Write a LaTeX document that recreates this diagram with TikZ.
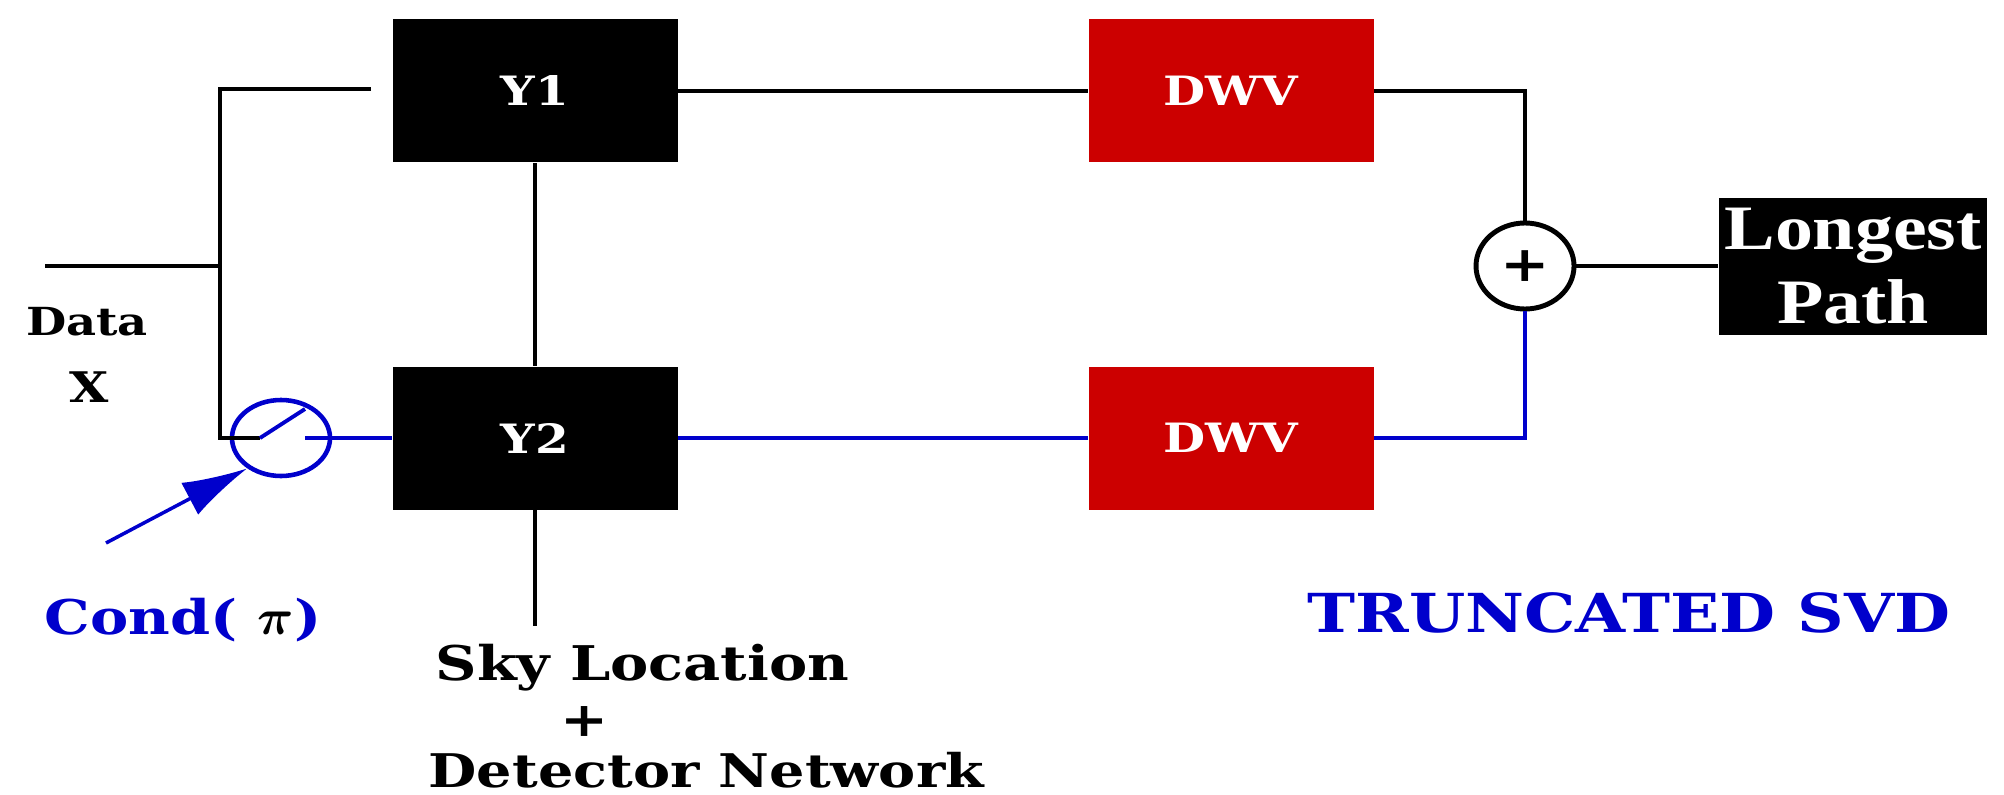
\documentclass[tikz,border=0pt]{standalone}
\usepackage{fontspec}
\usetikzlibrary{arrows.meta,shapes.geometric,positioning}
\setmainfont{DejaVu Serif}
\newfontfamily\wideserif[FakeStretch=1.2]{DejaVu Serif}
\newfontfamily\boxserif[FakeStretch=1.2]{Liberation Serif}
\definecolor{dwvred}{HTML}{CC0000}
\definecolor{condblue}{HTML}{0000CC}
\newcommand{\tx}{\wideserif\bfseries}

\begin{document}
\begin{tikzpicture}[
  blk/.style={fill=black, text=white, minimum width=2.85cm, minimum height=1.43cm, inner sep=0pt,
              font=\tx\fontsize{11.5}{12}\selectfont},
  dwv/.style={blk, fill=dwvred},
  wire/.style={line width=0.9pt},
  bwire/.style={condblue, line width=1.1pt},
  lbl/.style={font=\tx\fontsize{13.6}{16}\selectfont, inner sep=0pt},
  >={Latex[length=6.5mm,width=3.6mm]}]

\useasboundingbox (0,0) rectangle (20.04,-7.94);

% ================================================================== the two branches
\node[blk] (y1) at (5.35,-0.91) {Y1};
\node[blk] (y2) at (5.35,-4.38) {Y2};
\node[dwv] (d1) at (12.31,-0.91) {DWV};
\node[dwv] (d2) at (12.31,-4.38) {DWV};
\node[ellipse, draw, line width=1.4pt, minimum width=0.98cm, minimum height=0.86cm, inner sep=0pt,
      font=\tx\fontsize{14}{14}\selectfont] (sum) at (15.25,-2.66) {+};
\node[blk, minimum width=2.68cm, minimum height=1.37cm, align=center,
      font=\boxserif\bfseries\fontsize{18}{21}\selectfont] (lp) at (18.53,-2.66) {Longest\\Path};

% ================================================================== input, split and switch
\coordinate (in) at (0.45,-2.66);
\coordinate (split) at (2.20,-2.66);
\coordinate (top) at (2.20,-0.89);
\coordinate (topend) at (3.71,-0.89);
\coordinate (low) at (2.20,-4.38);
\node[ellipse, draw=condblue, line width=1.3pt, minimum width=0.98cm, minimum height=0.76cm] (sw) at (2.81,-4.38) {};
\coordinate (pivot) at (2.60,-4.38);
\coordinate (blade) at (3.05,-4.09);
\coordinate (contact) at (3.05,-4.38);
\coordinate (ctrl) at (1.06,-5.43);
\coordinate (skytop) at (5.35,-6.26);

\draw[wire] (in) -- (split);
\draw[wire] (topend) -- (top) -- (low) -- (pivot);
\draw[bwire] (pivot) -- (blade);
\draw[bwire] (contact) -- (y2.west);
\draw[bwire, line width=1pt, ->] (ctrl) -- (sw.222);

% ================================================================== connectors
\draw[wire] (y1) -- (y2);
\draw[wire] (y2) -- (skytop);
\draw[wire] (y1) -- (d1);
\draw[bwire] (y2) -- (d2);
\draw[wire] (d1) -| (sum);
\draw[bwire] (d2) -| (sum);
\draw[wire] (sum) -- (lp);

% ================================================================== labels
\node[lbl, font=\tx\fontsize{11}{12}\selectfont] (data) at (0.87,-3.22) {Data};
\node[lbl, font=\tx\fontsize{12}{13}\selectfont] (xin) at (0.89,-3.87) {X};
\node[lbl, text=condblue] (cond) at (1.83,-6.20) {Cond( {\color{black}\boldmath$\pi$})};
\node[lbl, anchor=west] (sky) at (4.35,-6.68) {Sky Location};
\node[lbl] (plus) at (5.85,-7.22) {+};
\node[lbl, anchor=west, font=\tx\fontsize{13.2}{15}\selectfont] (det) at (4.28,-7.70) {Detector Network};
\node[lbl, text=condblue, font=\tx\fontsize{15.3}{17}\selectfont] (tsvd) at (16.29,-6.13) {TRUNCATED SVD};
\end{tikzpicture}
\end{document}
